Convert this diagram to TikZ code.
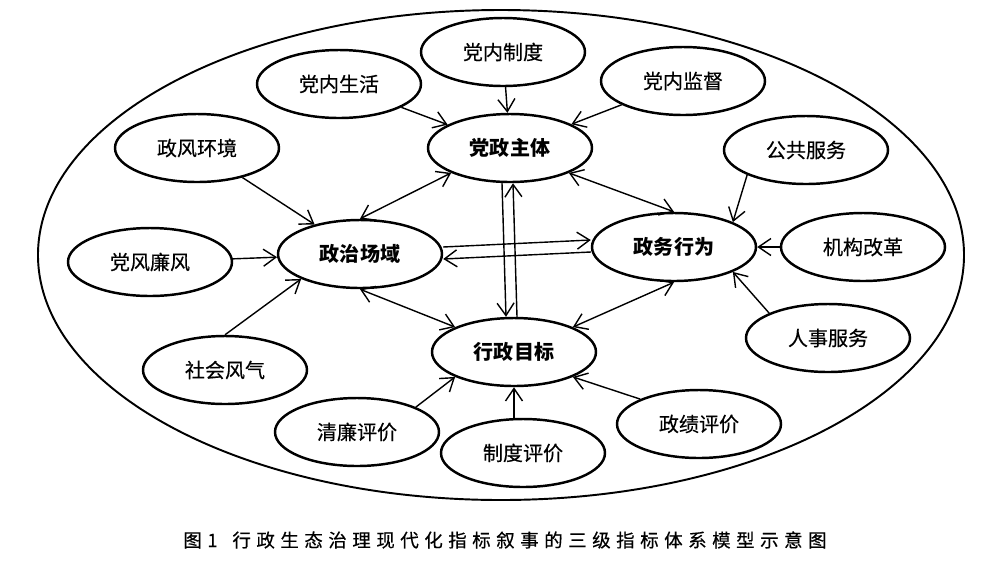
\documentclass[tikz,border=0pt]{standalone}
\usepackage{fontspec}
\setmainfont{Noto Sans CJK SC}
\newfontfamily\nodefont[FakeBold=0.4]{Noto Sans CJK SC}
\newfontfamily\capfont[LetterSpace=30,FakeBold=0.5]{Noto Sans CJK SC}
\usetikzlibrary{shapes.geometric,arrows.meta}

\begin{document}
\begin{tikzpicture}[x=0.2mm, y=-0.2mm, >={Straight Barb[length=2.5mm,width=3.4mm]},
        sub/.style = {draw, ellipse, line width=1.4pt, minimum width=32.8mm, minimum height=13.6mm, inner sep=0pt, font=\nodefont\fontsize{11.4}{12}\selectfont},
        core/.style = {sub, font=\rmfamily\fontsize{11.4}{12}\selectfont\bfseries},
        link/.style = {line width=0.8pt}]
        \useasboundingbox (0,0) rectangle (1000,563);
        \draw[line width=1.1pt] (501,255) ellipse [x radius=92.6mm, y radius=49mm];
        % the four core fields
        \node[core] (zt) at (510,148) {党政主体};
        \node[core] (cy) at (360,254) {政治场域};
        \node[core] (xw) at (674,247) {政务行为};
        \node[core] (mb) at (514,352) {行政目标};
        % third level indicators
        \node[sub] (zd) at (503,52) {党内制度};
        \node[sub] (sh) at (339,84) {党内生活};
        \node[sub] (jd) at (683,81) {党内监督};
        \node[sub] (hj) at (197,148) {政风环境};
        \node[sub] (lf) at (150,262) {党风廉风};
        \node[sub] (fq) at (225,370) {社会风气};
        \node[sub] (fw) at (806,150) {公共服务};
        \node[sub] (gg) at (863,247) {机构改革};
        \node[sub] (rs) at (828,338) {人事服务};
        \node[sub] (ql) at (357,432) {清廉评价};
        \node[sub] (zp) at (523,453) {制度评价};
        \node[sub] (zj) at (699,424) {政绩评价};
        \foreach \a/\b in {zd/zt, sh/zt, jd/zt, hj/cy, lf/cy, gg/xw, fq.north/cy.south west, fw.south west/xw.north east, rs.north west/xw.south east, ql.north east/mb.south west, zj.north west/mb.south east}{
            \draw[link,->] (\a) -- (\b);
        }
        \draw[link,->] (mb.south |- zp.north) -- (mb.south);
        % links between the core fields
        \draw[link,<->] (cy.north) -- (zt.south west);
        \draw[link,<->] (zt.south east) -- (xw.north);
        \draw[link,<->] (cy.south) -- (mb.north west);
        \draw[link,<->] (xw.south) -- (mb.north east);
        \draw[link,->] ([yshift=1.4mm]cy.east) -- ([yshift=1.4mm]xw.west);
        \draw[link,->] ([yshift=-1mm]xw.west) -- ([yshift=-1mm]cy.east);
        \draw[link,->] ([xshift=-1.6mm]zt.south) -- ([xshift=-1.6mm]mb.north);
        \draw[link,->] ([xshift=0.6mm]mb.north) -- ([xshift=0.6mm]zt.south);
        \node[font=\capfont\fontsize{10.5}{12}\selectfont] (cap) at (505,540) {图\hspace{0.3em}1\hspace{0.8em}行政生态治理现代化指标叙事的三级指标体系模型示意图};
    \end{tikzpicture}
\end{document}
